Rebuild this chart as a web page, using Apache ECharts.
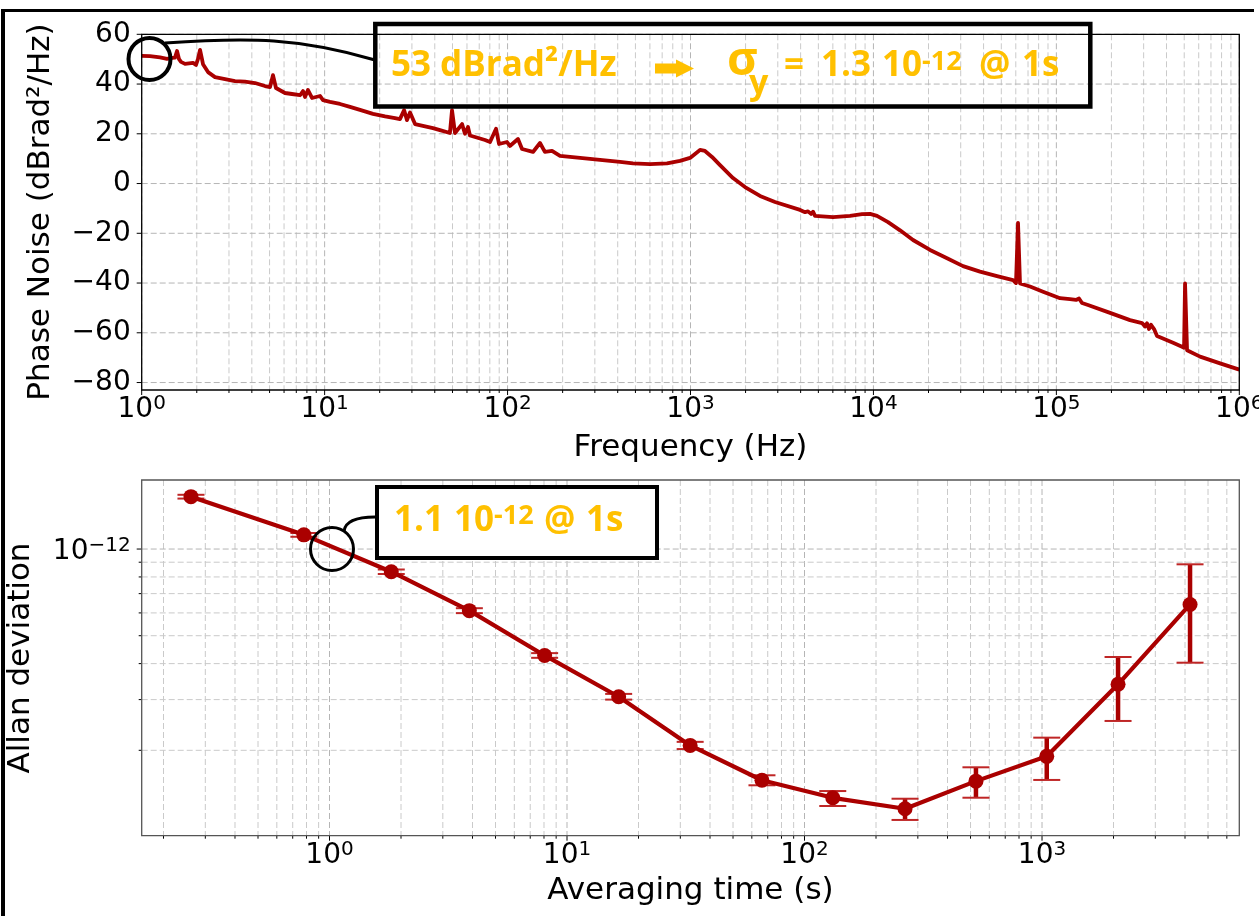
<!DOCTYPE html>
<html><head><meta charset="utf-8">
<script src="https://cdn.jsdelivr.net/npm/echarts@6/dist/echarts.min.js"></script>
<style>html,body{margin:0;padding:0;background:#fff}#c{width:1259px;height:916px}</style>
</head><body><div id="c"></div>
<script>
// ---------- data: phase noise spectrum ----------
const freqHz = [1.0,1.11,1.26,1.375,1.464,1.52,1.56,1.60,1.64,1.725,1.908,1.981,2.03,2.084,2.136,2.163,2.304,2.516,2.854,3.236,3.668,4.163,4.72,5.03,5.22,5.42,6.07,6.63,7.34,7.62,7.81,8.11,8.53,9.43,9.8,10.7,12.13,13.76,15.61,18.38,21.4,24.25,25.8,27.2,28.2,29.3,31.2,39.1,42.7,48.4,49.7,51.6,56.4,58.5,60.8,62.3,75.3,80.2,86.5,89.8,99.3,103,114,120,137.7,150.4,160,175,193.5,249,320,412,485,601,744,876,994,1127,1200,1311,1450,1708,1986,2399,2897,3971,4227,4390,4559,4674,4793,6013,7447,8661,9581,10463,12020,13980,16460,20390,25260,30890,38250,47390,57940,60170,61710,63280,71780,84560,104700,118800,121800,128100,133000,138100,148900,196600,252700,294000,305200,313100,321000,329200,342000,355100,434400,486400,498900,505200,518100,531300,610300,785000,1000000];
const phaseNoiseDb = [51.3,51.2,50.7,50.1,50.5,50.6,53.3,50.0,48.9,48.1,48.5,47.7,50,53.7,50,48,44.8,42.8,42,41.2,41,40.4,39.2,38.8,43.6,38.4,36.4,36,35.5,37.2,34.8,37.6,34.4,35.2,33.5,32.8,32,30.8,29.6,28,27,26.3,25.9,29.5,25.5,28.6,23.9,22.3,21.5,20.3,29.5,20.3,23.9,20,22.7,19.3,17.5,16.7,22,15.9,16.7,15.1,17.9,13.9,12.7,16.3,12.7,13.1,11.1,10.3,9.5,8.7,8.1,7.8,8.1,9.1,10.3,13.5,13.1,10.7,7.4,2.2,-1.4,-5,-7.4,-10.6,-11.5,-11.2,-12.2,-11.3,-13,-13.5,-13,-12.3,-12.2,-13,-15.5,-18.8,-22.7,-26.7,-30,-33.2,-35.4,-37.2,-38.8,-40,-15.8,-40.2,-41.4,-43.5,-46.1,-46.5,-45.7,-46.8,-46.2,-48,-48.8,-52,-54.9,-56.1,-57.5,-56.2,-58.5,-56.8,-58.5,-61.3,-64,-65.6,-66,-40.1,-67,-67.6,-69.6,-72.3,-74.8];

// ---------- data: Allan deviation ----------
const tauS = [0.261,0.78,1.82,3.88,8.05,16.5,33,66.2,131.5,265,527,1047,2090,4200];
const adev = [1.52e-12,1.12e-12,8.34e-13,6.11e-13,4.27e-13,3.07e-13,2.08e-13,1.574e-13,1.368e-13,1.253e-13,1.563e-13,1.906e-13,3.39e-13,6.42e-13];
const adevLow  = [1.497e-12,1.103e-12,8.19e-13,5.99e-13,4.19e-13,3.00e-13,2.02e-13,1.512e-13,1.281e-13,1.146e-13,1.369e-13,1.578e-13,2.529e-13,4.03e-13];
const adevHigh = [1.543e-12,1.137e-12,8.49e-13,6.23e-13,4.35e-13,3.14e-13,2.14e-13,1.638e-13,1.444e-13,1.358e-13,1.746e-13,2.213e-13,4.217e-13,8.85e-13];

// ---------- tick labels ----------
const pnXMajor = [1,10,100,1e3,1e4,1e5,1e6];
const pnXExp   = ['0','1','2','3','4','5','6'];
const pnYTicks = [-80,-60,-40,-20,0,20,40,60];
const adXMajor = [1,10,100,1000];
const adXExp   = ['0','1','2','3'];
const adYMajor = [1e-12];
const adYExp   = ['−12'];

// axis limits
const PN_X = [1, 1e6], PN_Y = [-83, 60];
const AD_X = [0.1619, 6771], AD_Y = [1.0104e-13, 1.7367e-12];

function minorsBetween(lo, hi) {
  const out = [];
  for (let e = Math.floor(Math.log10(lo)); e <= Math.ceil(Math.log10(hi)); e++) {
    for (let m = 2; m <= 9; m++) {
      const v = m * Math.pow(10, e);
      if (v > lo * 1.0001 && v < hi * 0.9999) out.push(v);
    }
  }
  return out;
}

const TICK_FONT = 'DejaVu Sans';
const RICH = {
  b: {fontFamily: TICK_FONT, fontSize: 28, lineHeight: 32, fill: '#000', color: '#000', verticalAlign: 'middle'},
  s: {fontFamily: TICK_FONT, fontSize: 20, lineHeight: 20, fill: '#000', color: '#000', verticalAlign: 'top'}
};
const MAJOR_C = '#b5b5b5', MINOR_C = '#cacaca';

const G1 = {left: 141.7, top: 34.3, width: 1097.6, height: 355.7};
const G2 = {left: 141.7, top: 480, width: 1097.6, height: 355.7};

function decor(xi, dir, items, ref) {
  return {
    type: 'custom', xAxisIndex: xi, yAxisIndex: xi, z: 1, clip: false, silent: true,
    data: items.map(it => dir === 'x' ? [it.v, ref] : [ref, it.v]),
    renderItem(params, api) {
      const it = items[params.dataIndex];
      const cs = params.coordSys;
      const p = api.coord(dir === 'x' ? [it.v, ref] : [ref, it.v]);
      const kids = [];
      if (dir === 'x') {
        const x = p[0], yb = cs.y + cs.height;
        kids.push({type: 'line', shape: {x1: x, y1: cs.y, x2: x, y2: yb}, style: {stroke: it.major ? MAJOR_C : MINOR_C, lineWidth: 1, lineDash: [6, 3]}});
        kids.push({type: 'line', shape: {x1: x, y1: yb, x2: x, y2: yb + (it.major ? 5 : 3)}, style: {stroke: '#000', lineWidth: 1}});
        if (it.label) kids.push({type: 'text', x: x, y: yb + 4, style: {text: it.label, rich: RICH, align: 'center', verticalAlign: 'top'}});
      } else {
        const y = p[1], xl = cs.x;
        kids.push({type: 'line', shape: {x1: xl, y1: y, x2: xl + cs.width, y2: y}, style: {stroke: it.major ? MAJOR_C : MINOR_C, lineWidth: 1, lineDash: [6, 3]}});
        kids.push({type: 'line', shape: {x1: xl - (it.major ? 5 : 3), y1: y, x2: xl, y2: y}, style: {stroke: '#000', lineWidth: 1}});
        if (it.label) kids.push({type: 'text', x: xl - 11, y: y + (it.dy || 0), style: {text: it.label, rich: RICH, align: 'right', verticalAlign: 'middle'}});
      }
      return {type: 'group', children: kids};
    }
  };
}

const pnXItems = pnXMajor.map((v, i) => ({v, major: true, label: '{b|10}{s|' + pnXExp[i] + '}'}))
  .concat(minorsBetween(PN_X[0], PN_X[1]).map(v => ({v, major: false})));
const pnYItems = pnYTicks.map(v => ({v, major: true, label: '{b|' + String(v).replace('-', '−') + '}'}));
const adXItems = adXMajor.map((v, i) => ({v, major: true, label: '{b|10}{s|' + adXExp[i] + '}'}))
  .concat(minorsBetween(AD_X[0], AD_X[1]).map(v => ({v, major: false})));
const adYItems = adYMajor.map((v, i) => ({v, major: true, dy: 3, label: '{b|10}{s|' + adYExp[i] + '}'}))
  .concat(minorsBetween(AD_Y[0], AD_Y[1]).map(v => ({v, major: false})));

const RED = '#AA0000';
const GOLD = '#FFC000';
const ANN = '"Open Sans", "DejaVu Sans", sans-serif';
function ann(text, x, y, size) {
  return {type: 'text', z: 120, silent: true, x: x, y: y,
    style: {text: text, fontFamily: ANN, fontWeight: 700, fontSize: size, fill: GOLD, align: 'left', verticalAlign: 'middle'}};
}

const NAME_FONT = '31px "DejaVu Sans"';
const hiddenAxis = {axisLine: {show: false}, axisTick: {show: false}, axisLabel: {show: false}, splitLine: {show: false}};

const option = {
  animation: false,
  backgroundColor: '#fff',
  grid: [Object.assign({show: false}, G1), Object.assign({show: false}, G2)],
  xAxis: [
    Object.assign({type: 'log', logBase: 10, gridIndex: 0, min: PN_X[0], max: PN_X[1]}, hiddenAxis),
    Object.assign({type: 'log', logBase: 10, gridIndex: 1, min: AD_X[0], max: AD_X[1]}, hiddenAxis)
  ],
  yAxis: [
    Object.assign({type: 'value', gridIndex: 0, min: PN_Y[0], max: PN_Y[1]}, hiddenAxis),
    Object.assign({type: 'log', logBase: 10, gridIndex: 1, min: AD_Y[0], max: AD_Y[1]}, hiddenAxis)
  ],
  series: [
    decor(0, 'x', pnXItems, 0),
    decor(0, 'y', pnYItems, 1),
    decor(1, 'x', adXItems, 1e-12),
    decor(1, 'y', adYItems, 1),
    {
      type: 'line', xAxisIndex: 0, yAxisIndex: 0, z: 4, showSymbol: false, symbol: 'none',
      data: freqHz.map((f, i) => [f, phaseNoiseDb[i]]),
      lineStyle: {color: RED, width: 3.8, join: 'round'}
    },
    {
      type: 'custom', xAxisIndex: 1, yAxisIndex: 1, z: 3, clip: false, silent: true,
      dimensions: ['tau', 'lo', 'hi'], encode: {x: 0, y: [1, 2]},
      data: tauS.map((t, i) => [t, adevLow[i], adevHigh[i]]),
      renderItem(params, api) {
        const lo = api.coord([api.value(0), api.value(1)]);
        const hi = api.coord([api.value(0), api.value(2)]);
        const hw = 13.5;
        return {type: 'group', children: [
          {type: 'line', shape: {x1: lo[0], y1: lo[1], x2: hi[0], y2: hi[1]}, style: {stroke: RED, lineWidth: 4.5}},
          {type: 'line', shape: {x1: lo[0] - hw, y1: lo[1], x2: lo[0] + hw, y2: lo[1]}, style: {stroke: '#bf2626', lineWidth: 2}},
          {type: 'line', shape: {x1: hi[0] - hw, y1: hi[1], x2: hi[0] + hw, y2: hi[1]}, style: {stroke: '#bf2626', lineWidth: 2}}
        ]};
      }
    },
    {
      type: 'line', xAxisIndex: 1, yAxisIndex: 1, z: 4, symbol: 'circle', symbolSize: 15, showSymbol: true,
      data: tauS.map((t, i) => [t, adev[i]]),
      lineStyle: {color: RED, width: 4.2},
      itemStyle: {color: RED}
    }
  ],
  graphic: {elements: [
    // plot frames
    {type: 'rect', z: 100, silent: true, shape: {x: G1.left, y: G1.top, width: G1.width, height: G1.height}, style: {fill: 'none', stroke: '#000', lineWidth: 1.3}},
    {type: 'rect', z: 100, silent: true, shape: {x: G2.left, y: G2.top, width: G2.width, height: G2.height}, style: {fill: 'none', stroke: '#555', lineWidth: 1.3}},
    // axis names
    {type: 'text', z: 100, x: 690.5, y: 447.5, style: {text: 'Frequency (Hz)', font: NAME_FONT, fill: '#000', align: 'center', verticalAlign: 'middle'}},
    {type: 'text', z: 100, x: 690.5, y: 891, style: {text: 'Averaging time (s)', font: NAME_FONT, fill: '#000', align: 'center', verticalAlign: 'middle'}},
    {type: 'text', z: 100, x: 41, y: 212, rotation: Math.PI / 2, style: {text: 'Phase Noise (dBrad²/Hz)', font: NAME_FONT, fill: '#000', align: 'center', verticalAlign: 'middle'}},
    {type: 'text', z: 100, x: 21, y: 658, rotation: Math.PI / 2, style: {text: 'Allan deviation', font: NAME_FONT, fill: '#000', align: 'center', verticalAlign: 'middle'}},
    // outer screenshot frame
    {type: 'rect', z: 110, silent: true, shape: {x: 1, y: 9, width: 4, height: 907}, style: {fill: '#000'}},
    {type: 'rect', z: 110, silent: true, shape: {x: 1, y: 9, width: 1253, height: 3}, style: {fill: '#000'}},
    // annotation 1
    {type: 'circle', z: 110, silent: true, shape: {cx: 149.5, cy: 59, r: 21}, style: {fill: 'none', stroke: '#000', lineWidth: 4}},
    {type: 'bezierCurve', z: 110, silent: true, shape: {x1: 165, y1: 43, cpx1: 250, cpy1: 37, cpx2: 300, cpy2: 38, x2: 375, y2: 60}, style: {fill: 'none', stroke: '#000', lineWidth: 3}},
    {type: 'rect', z: 110, silent: true, shape: {x: 375.3, y: 24, width: 715, height: 82.5}, style: {fill: 'none', stroke: '#000', lineWidth: 4.5}},
    ann('53 dBrad²/Hz', 391, 66.4, 35),
    {type: 'polygon', z: 120, silent: true, shape: {points: [[655, 63.5], [676, 63.5], [676, 59.5], [694, 68.5], [676, 77.5], [676, 73.5], [655, 73.5]]}, style: {fill: GOLD}},
    ann('σ', 727, 62, 47),
    ann('y', 749, 84, 34),
    ann('=', 784, 66.4, 35),
    ann('1.3', 821, 66.4, 35),
    ann('10', 882, 66.4, 35),
    ann('-12', 922, 62, 27),
    ann('@', 979, 66.4, 35),
    ann('1s', 1022, 66.4, 35),
    // annotation 2
    {type: 'circle', z: 110, silent: true, shape: {cx: 332, cy: 549, r: 21.5}, style: {fill: 'none', stroke: '#000', lineWidth: 3}},
    {type: 'bezierCurve', z: 110, silent: true, shape: {x1: 344, y1: 531, cpx1: 346, cpy1: 517, x2: 375, y2: 517}, style: {fill: 'none', stroke: '#000', lineWidth: 3}},
    {type: 'rect', z: 110, silent: true, shape: {x: 377, y: 487, width: 280, height: 71}, style: {fill: '#fff', stroke: '#000', lineWidth: 4}},
    ann('1.1', 394, 521.4, 35),
    ann('10', 454, 521.4, 35),
    ann('-12', 494, 516.5, 27),
    ann('@', 544, 521.4, 35),
    ann('1s', 586, 521.4, 35)
  ]}
};

const chart = echarts.init(document.getElementById('c'), null, {renderer: 'canvas', width: 1259, height: 916});
chart.setOption(option);
</script>
</body></html>
